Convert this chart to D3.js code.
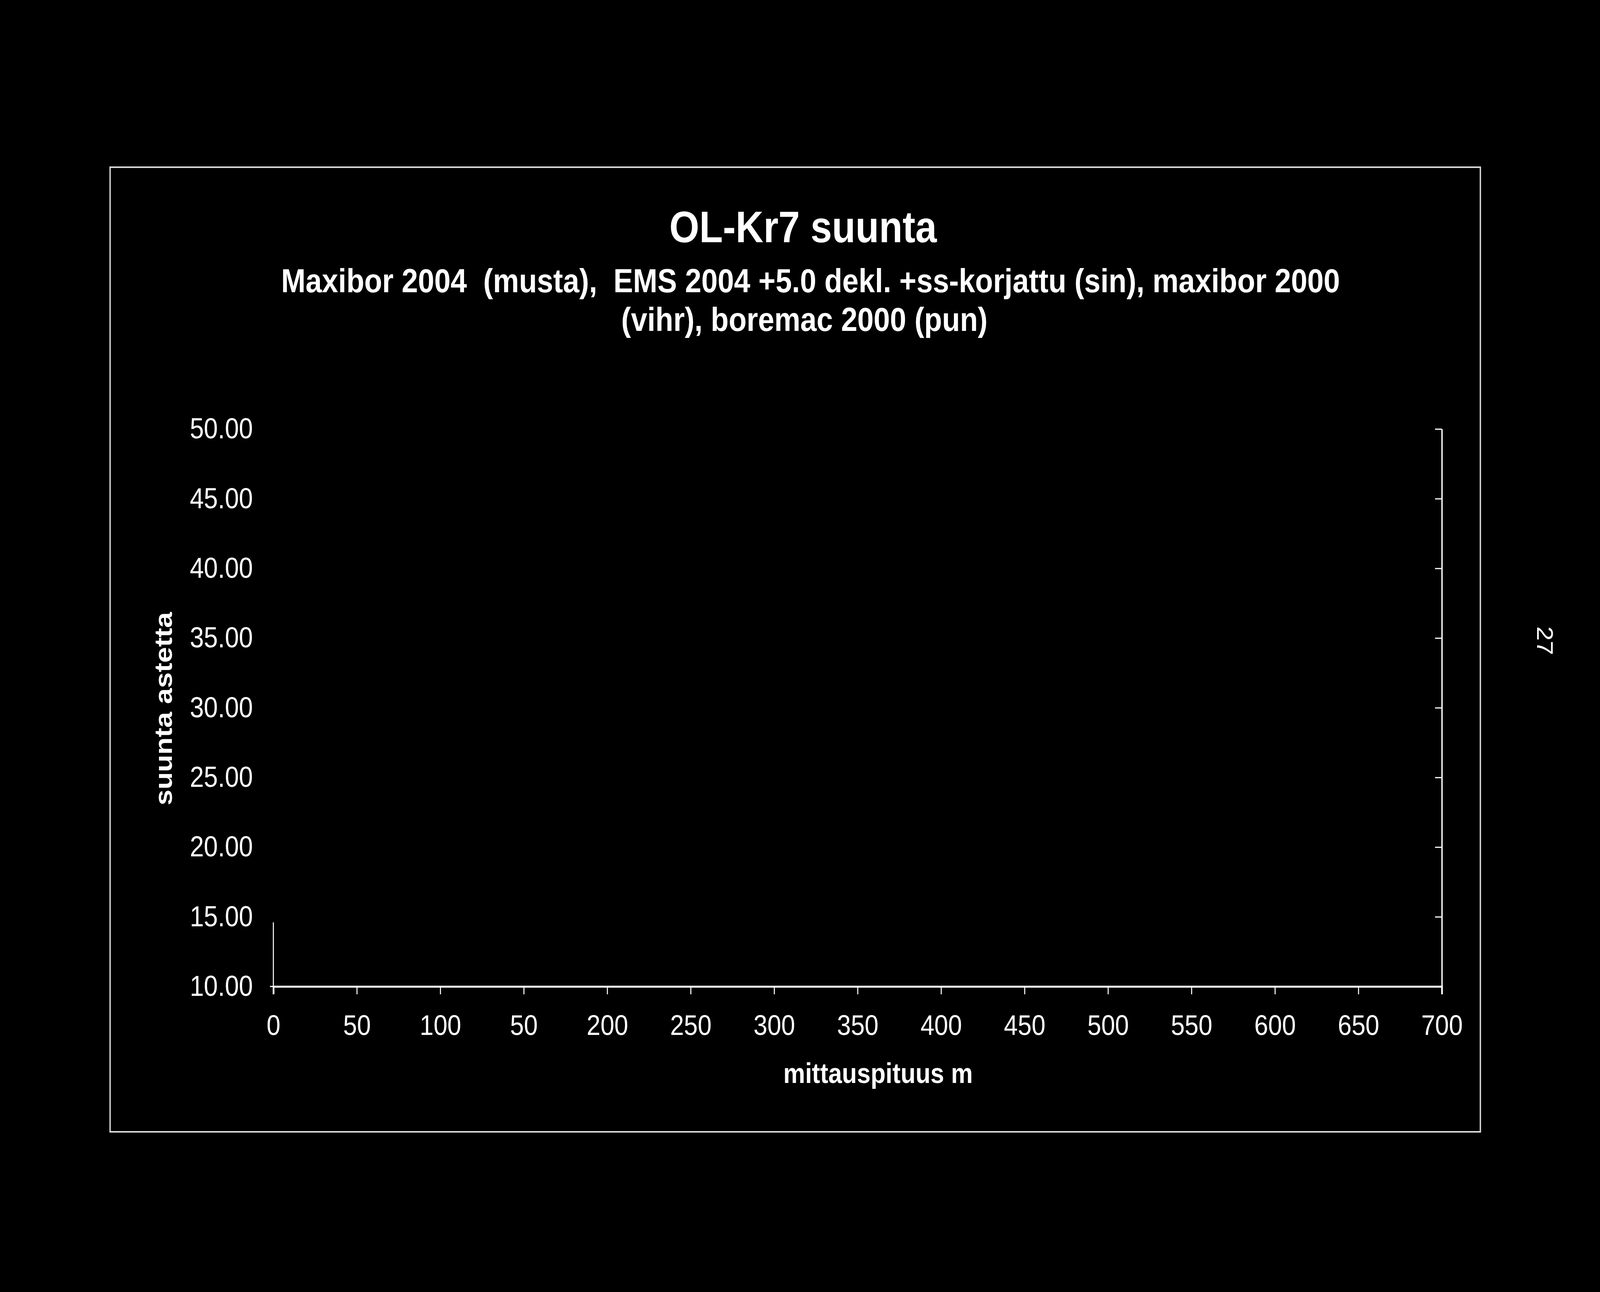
<!DOCTYPE html>
<html>
<head>
<meta charset="utf-8">
<script src="https://cdn.jsdelivr.net/npm/d3@7"></script>
<style>
    html, body { margin: 0; padding: 0; background: #000; overflow: hidden; }
    svg { display: block; }
    text { font-family: "Liberation Sans", Arial, sans-serif; fill: #fff; }
</style>
</head>
<body>
<div class="chart"></div>
<script>

// axis ranges and ticks
var xDomain = [0, 700];
var yDomain = [10, 50];
var xTicks = [0, 50, 100, 150, 200, 250, 300, 350, 400, 450, 500, 550, 600, 650, 700];
var xTickLabels = ["0", "50", "100", "50", "200", "250", "300", "350", "400", "450", "500", "550", "600", "650", "700"];
var yTicks = [10, 15, 20, 25, 30, 35, 40, 45, 50];

// series named in the title; they are black on black in the source, nothing readable
var seriesNames = ["Maxibor 2004", "EMS 2004 +5.0 dekl. +ss-korjattu", "maxibor 2000", "boremac 2000"];

var W = 4694, H = 3307;
var margin = { top: 1098, right: W - 4230, bottom: H - 2525, left: 802 };
var width = W - margin.left - margin.right,
    height = H - margin.top - margin.bottom;

// drawn in a fixed 4694x3307 box, stretched to whatever the window is
var svg = d3.select(".chart").append("svg")
    .attr("viewBox", "0 0 " + W + " " + H)
    .attr("preserveAspectRatio", "none")
    .style("width", "100vw")
    .style("height", "100vh");

svg.append("rect")
    .attr("width", W)
    .attr("height", H)
    .attr("fill", "#000");

// outer chart frame
svg.append("rect")
    .attr("x", 323)
    .attr("y", 428)
    .attr("width", 4343 - 323)
    .attr("height", 2897 - 428)
    .attr("fill", "none")
    .attr("stroke", "#d8d8d8")
    .attr("stroke-width", 4);

var g = svg.append("g")
    .attr("transform", "translate(" + margin.left + "," + margin.top + ")");

var x = d3.scaleLinear().domain(xDomain).range([0, width]);
var y = d3.scaleLinear().domain(yDomain).range([height, 0]);

// x axis, ticks outward
var xAxis = g.append("g")
    .attr("transform", "translate(0," + height + ")")
    .call(d3.axisBottom(x)
        .tickValues(xTicks)
        .tickSize(20)
        .tickPadding(52)
        .tickFormat(function(d, i){ return xTickLabels[i]; }));

xAxis.select(".domain").attr("stroke", "#fff").attr("stroke-width", 5);
xAxis.selectAll(".tick line").attr("stroke", "#fff").attr("stroke-width", 3);
xAxis.selectAll(".tick text")
    .attr("fill", "#fff")
    .style("font-size", "73px");

// y labels on the left, no visible axis line except near the bottom
var yAxis = g.append("g")
    .call(d3.axisLeft(y)
        .tickValues(yTicks)
        .tickSize(0)
        .tickPadding(60)
        .tickFormat(d3.format(".2f")));

yAxis.select(".domain").remove();
yAxis.selectAll(".tick text")
    .attr("fill", "#fff")
    .style("font-size", "74px");

g.append("line")
    .attr("x1", 0).attr("x2", 0)
    .attr("y1", y(14.6)).attr("y2", y(10))
    .attr("stroke", "#fff")
    .attr("stroke-width", 3);

g.append("line")
    .attr("x1", -10).attr("x2", 0)
    .attr("y1", y(10)).attr("y2", y(10))
    .attr("stroke", "#fff")
    .attr("stroke-width", 3);

// right side border with inward ticks
var yRight = g.append("g")
    .attr("transform", "translate(" + width + ",0)")
    .call(d3.axisLeft(y)
        .tickValues(yTicks.slice(1))
        .tickSizeInner(20)
        .tickSizeOuter(0)
        .tickFormat(""));

yRight.select(".domain").attr("stroke", "#fff").attr("stroke-width", 4);
yRight.selectAll(".tick line").attr("stroke", "#fff").attr("stroke-width", 3);

// titles
svg.append("text")
    .attr("x", 2356)
    .attr("y", 620)
    .attr("text-anchor", "middle")
    .style("font-size", "113px")
    .style("font-weight", "bold")
    .text("OL-Kr7 suunta");

svg.append("text")
    .attr("x", 2378)
    .attr("y", 748)
    .attr("text-anchor", "middle")
    .style("font-size", "86px")
    .style("font-weight", "bold")
    .style("white-space", "pre")
    .text("Maxibor 2004  (musta),  EMS 2004 +5.0 dekl. +ss-korjattu (sin), maxibor 2000");

svg.append("text")
    .attr("x", 2360)
    .attr("y", 847)
    .attr("text-anchor", "middle")
    .style("font-size", "86px")
    .style("font-weight", "bold")
    .text("(vihr), boremac 2000 (pun)");

svg.append("text")
    .attr("x", margin.left + x(350) + 60)
    .attr("y", 2772)
    .attr("text-anchor", "middle")
    .style("font-size", "72px")
    .style("font-weight", "bold")
    .text("mittauspituus m");

svg.append("text")
    .attr("transform", "translate(504,1814) rotate(-90)")
    .attr("text-anchor", "middle")
    .style("font-size", "73px")
    .style("font-weight", "bold")
    .text("suunta astetta");

// page number at the edge
svg.append("text")
    .attr("transform", "translate(4510,1640) rotate(90)")
    .attr("text-anchor", "middle")
    .style("font-size", "66px")
    .text("27");

</script>
</body>
</html>
